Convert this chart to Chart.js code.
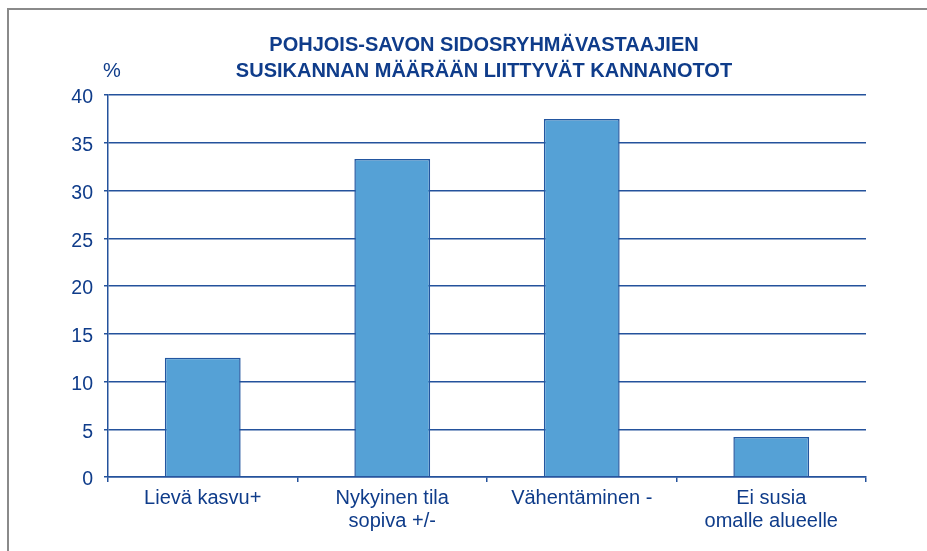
<!DOCTYPE html>
<html>
<head>
<meta charset="utf-8">
<script src="https://cdn.jsdelivr.net/npm/chart.js@4"></script>
<style>
  html, body { margin: 0; padding: 0; background: #fff; overflow: hidden; }
  #frame { position: absolute; left: 7px; top: 8px; width: 1000px; height: 1000px; border-left: 2px solid #8a8a8a; border-top: 2px solid #8a8a8a; }
  #wrap { position: absolute; left: 0; top: 0; width: 927px; height: 551px; }
</style>
</head>
<body>
<div id="frame"></div>
<div id="wrap"><canvas id="chart"></canvas></div>
<script>
// Pohjois-Savo, kannanotot susikannan määrään (%)
const titleLines = ['POHJOIS-SAVON SIDOSRYHMÄVASTAAJIEN', 'SUSIKANNAN MÄÄRÄÄN LIITTYVÄT KANNANOTOT'];
const unitLabel = '%';
const categories = [['Lievä kasvu+'], ['Nykyinen tila', 'sopiva +/-'], ['Vähentäminen -'], ['Ei susia', 'omalle alueelle']];
const values = [12.5, 33.3, 37.5, 4.2];
const yMin = 0, yMax = 40, yStep = 5;

const navy = '#0f3c8a';
const lineBlue = '#24529c';

// title and "%" label above the plot
const titlePlugin = {
  id: 'titleText',
  afterDraw(chart) {
    const ctx = chart.ctx;
    const area = chart.chartArea;
    ctx.save();
    ctx.fillStyle = navy;
    ctx.textAlign = 'center';
    ctx.textBaseline = 'alphabetic';
    ctx.font = 'bold 20px "Liberation Sans", Arial, sans-serif';
    titleLines.forEach((t, i) => ctx.fillText(t, 484, 51 + i * 26));
    ctx.font = '20px "Liberation Sans", Arial, sans-serif';
    ctx.textAlign = 'left';
    ctx.fillText(unitLabel, area.left - 5, 77);
    ctx.restore();
  }
};

new Chart(document.getElementById('chart'), {
  type: 'bar',
  data: {
    labels: categories,
    datasets: [{
      data: values,
      backgroundColor: '#55a1d6',
      borderColor: '#2356a0',
      borderWidth: 1.5,
      categoryPercentage: 1,
      barPercentage: 0.4
    }]
  },
  options: {
    responsive: true,
    maintainAspectRatio: false,
    animation: false,
    layout: { padding: { left: 0, right: 61, top: 95, bottom: 0 } },
    plugins: { legend: { display: false }, title: { display: false }, tooltip: { enabled: false } },
    scales: {
      x: {
        afterFit: s => { s.height = 74; },
        grid: {
          offset: true,
          drawOnChartArea: true,
          color: c => (c.index === categories.length ? lineBlue : 'transparent'),
          tickColor: lineBlue,
          tickLength: 5,
          lineWidth: 1.5
        },
        border: { color: lineBlue, width: 1.5 },
        ticks: {
          color: navy,
          padding: 5,
          maxRotation: 0,
          font: { family: '"Liberation Sans", Arial, sans-serif', size: 20, lineHeight: 1.15 }
        }
      },
      y: {
        min: yMin,
        max: yMax,
        afterFit: s => { s.width = 108; },
        grid: { color: lineBlue, tickColor: lineBlue, tickLength: 4, lineWidth: 1.5 },
        border: { color: lineBlue, width: 1.5 },
        ticks: {
          stepSize: yStep,
          color: navy,
          padding: 11,
          labelOffset: 3,
          font: { family: '"Liberation Sans", Arial, sans-serif', size: 19.5 }
        }
      }
    }
  },
  plugins: [titlePlugin]
});
</script>
</body>
</html>
